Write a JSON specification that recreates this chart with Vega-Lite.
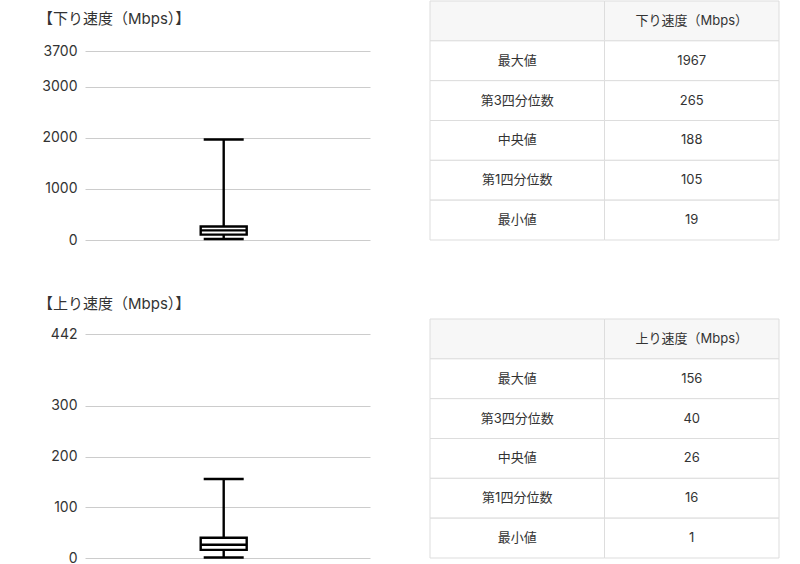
{
  "$schema": "https://vega.github.io/schema/vega-lite/v6.json",
  "background": "white",
  "padding": {"left": 38, "top": 0, "right": 0, "bottom": 0},
  "datasets": {
    "down": [{"speed": "下り速度", "min": 19, "q1": 105, "median": 188, "q3": 265, "max": 1967}],
    "up": [{"speed": "上り速度", "min": 1, "q1": 16, "median": 26, "q3": 40, "max": 156}],
    "down_table": [
      {"item": "", "value": "下り速度（Mbps）"},
      {"item": "最大値", "value": "1967"},
      {"item": "第3四分位数", "value": "265"},
      {"item": "中央値", "value": "188"},
      {"item": "第1四分位数", "value": "105"},
      {"item": "最小値", "value": "19"}
    ],
    "up_table": [
      {"item": "", "value": "上り速度（Mbps）"},
      {"item": "最大値", "value": "156"},
      {"item": "第3四分位数", "value": "40"},
      {"item": "中央値", "value": "26"},
      {"item": "第1四分位数", "value": "16"},
      {"item": "最小値", "value": "1"}
    ]
  },
  "columns": 2,
  "spacing": {"row": 79, "column": 60},
  "bounds": "flush",
  "concat": [
    {
      "width": 285,
      "height": 239,
      "data": {"name": "down"},
      "title": {"text": "【下り速度（Mbps）】", "anchor": "start", "frame": "group", "dx": -47, "offset": -26},
      "encoding": {
        "x": {"field": "speed", "type": "nominal", "axis": null, "scale": {"paddingInner": 0, "paddingOuter": 1, "align": 0.48}}
      },
      "layer": [
        {
          "mark": {"type": "rule", "color": "black", "strokeWidth": 2.4},
          "encoding": {
            "y": {"field": "min", "type": "quantitative", "title": null,
              "scale": {"domain": [0, 3700], "range": [239, 50], "nice": false},
              "axis": {"values": [0, 1000, 2000, 3000, 3700], "format": "d"}},
            "y2": {"field": "max"}
          }
        },
        {
          "mark": {"type": "bar", "width": 46, "fill": "white", "stroke": "black", "strokeWidth": 2.4},
          "encoding": {
            "y": {"field": "q1", "type": "quantitative", "title": null},
            "y2": {"field": "q3"}
          }
        },
        {
          "mark": {"type": "tick", "size": 46, "thickness": 2.4, "color": "black", "opacity": 1},
          "encoding": {"y": {"field": "median", "type": "quantitative", "title": null}}
        },
        {
          "mark": {"type": "tick", "size": 40, "thickness": 2.4, "color": "black", "opacity": 1},
          "encoding": {"y": {"field": "min", "type": "quantitative", "title": null}}
        },
        {
          "mark": {"type": "tick", "size": 40, "thickness": 2.4, "color": "black", "opacity": 1},
          "encoding": {"y": {"field": "max", "type": "quantitative", "title": null}}
        }
      ]
    },
    {
      "width": 349,
      "height": 239,
      "data": {"name": "down_table"},
      "transform": [{"fold": ["item", "value"], "as": ["col", "cell"]}],
      "encoding": {
        "x": {"field": "col", "type": "nominal", "axis": null, "scale": {"domain": ["item", "value"], "paddingInner": 0, "paddingOuter": 0}},
        "y": {"field": "item", "type": "nominal", "axis": null, "sort": null, "scale": {"paddingInner": 0, "paddingOuter": 0}}
      },
      "layer": [
        {
          "mark": {"type": "rect", "stroke": "#dddddd", "strokeWidth": 1},
          "encoding": {"fill": {"condition": {"test": "datum.item === ''", "value": "#f7f7f7"}, "value": "white"}}
        },
        {
          "mark": {"type": "text", "fontSize": 13, "color": "#333333"},
          "encoding": {"text": {"field": "cell"}}
        }
      ]
    },
    {
      "width": 285,
      "height": 239,
      "data": {"name": "up"},
      "title": {"text": "【上り速度（Mbps）】", "anchor": "start", "frame": "group", "dx": -47, "offset": 7},
      "encoding": {
        "x": {"field": "speed", "type": "nominal", "axis": null, "scale": {"paddingInner": 0, "paddingOuter": 1, "align": 0.48}}
      },
      "layer": [
        {
          "mark": {"type": "rule", "color": "black", "strokeWidth": 2.4},
          "encoding": {
            "y": {"field": "min", "type": "quantitative", "title": null,
              "scale": {"domain": [0, 442], "range": [239, 15], "nice": false},
              "axis": {"values": [0, 100, 200, 300, 442], "format": "d"}},
            "y2": {"field": "max"}
          }
        },
        {
          "mark": {"type": "bar", "width": 46, "fill": "white", "stroke": "black", "strokeWidth": 2.4},
          "encoding": {
            "y": {"field": "q1", "type": "quantitative", "title": null},
            "y2": {"field": "q3"}
          }
        },
        {
          "mark": {"type": "tick", "size": 46, "thickness": 2.4, "color": "black", "opacity": 1},
          "encoding": {"y": {"field": "median", "type": "quantitative", "title": null}}
        },
        {
          "mark": {"type": "tick", "size": 40, "thickness": 2.4, "color": "black", "opacity": 1},
          "encoding": {"y": {"field": "min", "type": "quantitative", "title": null}}
        },
        {
          "mark": {"type": "tick", "size": 40, "thickness": 2.4, "color": "black", "opacity": 1},
          "encoding": {"y": {"field": "max", "type": "quantitative", "title": null}}
        }
      ]
    },
    {
      "width": 349,
      "height": 239,
      "data": {"name": "up_table"},
      "transform": [{"fold": ["item", "value"], "as": ["col", "cell"]}],
      "encoding": {
        "x": {"field": "col", "type": "nominal", "axis": null, "scale": {"domain": ["item", "value"], "paddingInner": 0, "paddingOuter": 0}},
        "y": {"field": "item", "type": "nominal", "axis": null, "sort": null, "scale": {"paddingInner": 0, "paddingOuter": 0}}
      },
      "layer": [
        {
          "mark": {"type": "rect", "stroke": "#dddddd", "strokeWidth": 1},
          "encoding": {"fill": {"condition": {"test": "datum.item === ''", "value": "#f7f7f7"}, "value": "white"}}
        },
        {
          "mark": {"type": "text", "fontSize": 13, "color": "#333333"},
          "encoding": {"text": {"field": "cell"}}
        }
      ]
    }
  ],
  "config": {
    "font": "Inter, 'Noto Sans CJK JP', sans-serif",
    "view": {"stroke": null},
    "title": {"fontSize": 15, "fontWeight": "normal", "color": "#333333"},
    "axis": {
      "domain": false,
      "ticks": false,
      "labelPadding": 8,
      "labelFontSize": 14,
      "labelColor": "#333333",
      "gridColor": "#cccccc",
      "gridOpacity": 1
    }
  }
}
